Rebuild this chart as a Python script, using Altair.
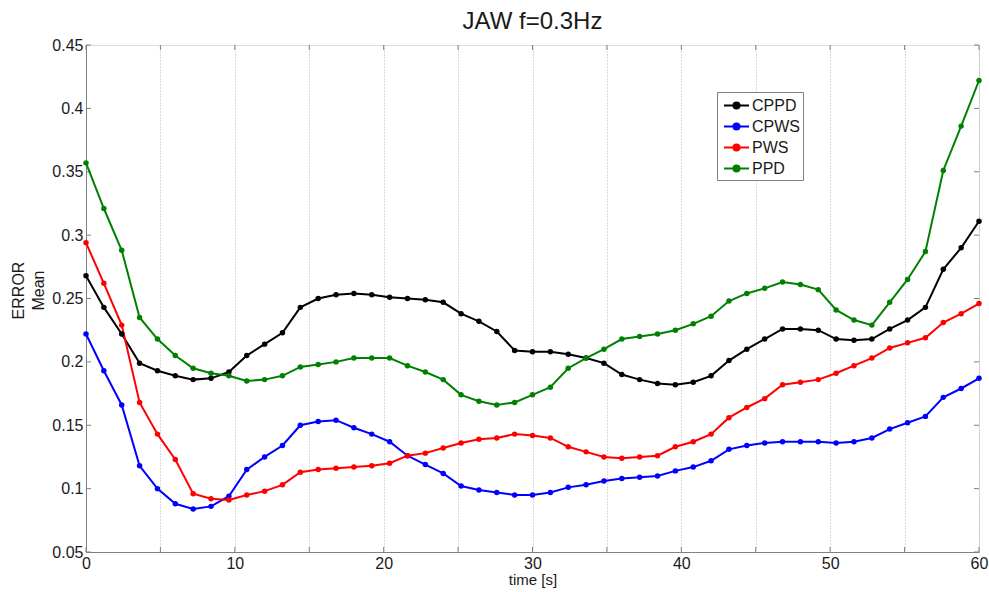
import altair as alt
import pandas as pd

# Sample times [s]
time_s = [0.0, 1.2, 2.4, 3.6, 4.8, 6.0, 7.2, 8.4, 9.6, 10.8,
          12.0, 13.2, 14.4, 15.6, 16.8, 18.0, 19.2, 20.4, 21.6, 22.8,
          24.0, 25.2, 26.4, 27.6, 28.8, 30.0, 31.2, 32.4, 33.6, 34.8,
          36.0, 37.2, 38.4, 39.6, 40.8, 42.0, 43.2, 44.4, 45.6, 46.8,
          48.0, 49.2, 50.4, 51.6, 52.8, 54.0, 55.2, 56.4, 57.6, 58.8, 60.0]

# Mean error per method
cppd = [0.268, 0.243, 0.222, 0.199, 0.193, 0.189, 0.186, 0.187, 0.192, 0.205,
        0.214, 0.223, 0.243, 0.250, 0.253, 0.254, 0.253, 0.251, 0.250, 0.249,
        0.247, 0.238, 0.232, 0.224, 0.209, 0.208, 0.208, 0.206, 0.203, 0.199,
        0.190, 0.186, 0.183, 0.182, 0.184, 0.189, 0.201, 0.210, 0.218, 0.226,
        0.226, 0.225, 0.218, 0.217, 0.218, 0.226, 0.233, 0.243, 0.273, 0.290, 0.311]
cpws = [0.222, 0.193, 0.166, 0.118, 0.100, 0.088, 0.084, 0.086, 0.094, 0.115,
        0.125, 0.134, 0.150, 0.153, 0.154, 0.148, 0.143, 0.137, 0.126, 0.119,
        0.112, 0.102, 0.099, 0.097, 0.095, 0.095, 0.097, 0.101, 0.103, 0.106,
        0.108, 0.109, 0.110, 0.114, 0.117, 0.122, 0.131, 0.134, 0.136, 0.137,
        0.137, 0.137, 0.136, 0.137, 0.140, 0.147, 0.152, 0.157, 0.172, 0.179, 0.187]
pws = [0.294, 0.262, 0.229, 0.168, 0.143, 0.123, 0.096, 0.092, 0.091, 0.095,
       0.098, 0.103, 0.113, 0.115, 0.116, 0.117, 0.118, 0.120, 0.126, 0.128,
       0.132, 0.136, 0.139, 0.140, 0.143, 0.142, 0.140, 0.133, 0.129, 0.125,
       0.124, 0.125, 0.126, 0.133, 0.137, 0.143, 0.156, 0.164, 0.171, 0.182,
       0.184, 0.186, 0.191, 0.197, 0.203, 0.211, 0.215, 0.219, 0.231, 0.238, 0.246]
ppd = [0.357, 0.321, 0.288, 0.235, 0.218, 0.205, 0.195, 0.191, 0.189, 0.185,
       0.186, 0.189, 0.196, 0.198, 0.200, 0.203, 0.203, 0.203, 0.197, 0.192,
       0.186, 0.174, 0.169, 0.166, 0.168, 0.174, 0.180, 0.195, 0.203, 0.210,
       0.218, 0.220, 0.222, 0.225, 0.230, 0.236, 0.248, 0.254, 0.258, 0.263,
       0.261, 0.257, 0.241, 0.233, 0.229, 0.247, 0.265, 0.287, 0.351, 0.386, 0.422]

series_names = ["CPPD", "CPWS", "PWS", "PPD"]
series_colors = ["#000000", "#0000ff", "#ff0000", "#008000"]
series_values = [cppd, cpws, pws, ppd]

x_ticks = [0, 5, 10, 15, 20, 25, 30, 35, 40, 45, 50, 55, 60]
y_ticks = [0.05, 0.1, 0.15, 0.2, 0.25, 0.3, 0.35, 0.4, 0.45]

rows = []
for k, (name, vals) in enumerate(zip(series_names, series_values)):
    for t, v in zip(time_s, vals):
        rows.append({"t": t, "v": v, "series": name, "k": k})
df = pd.DataFrame(rows)

W, H = 893, 507
FONT = "Liberation Sans"
AXIS_GRAY = "#808080"
TEXT = "#1a1a1a"

x_enc = alt.X(
    "t:Q",
    scale=alt.Scale(domain=[0, 60], nice=False, zero=False),
    axis=alt.Axis(
        values=x_ticks,
        labelExpr="datum.value % 10 === 0 ? datum.label : ''",
        grid=True, gridDash=[1, 2], gridColor="#b4b4b4", gridWidth=1,
        ticks=False, domainColor=AXIS_GRAY, labelFlush=False,
        labelFont=FONT, labelFontSize=16, labelColor=TEXT, labelPadding=3,
        title="time [s]", titleFont=FONT, titleFontSize=15,
        titleFontWeight="normal", titleColor=TEXT, titlePadding=1,
    ),
)
y_enc = alt.Y(
    "v:Q",
    scale=alt.Scale(domain=[0.05, 0.45], nice=False, zero=False),
    axis=alt.Axis(
        values=y_ticks, format=".2~f", grid=False, ticks=False,
        domainColor=AXIS_GRAY, labelFlush=False,
        labelFont=FONT, labelFontSize=16, labelColor=TEXT, labelPadding=3,
        title=["ERROR", "Mean"], titleFont=FONT, titleFontSize=16,
        titleFontWeight="normal", titleColor=TEXT, titlePadding=5,
        titleLineHeight=20, titleY=245,
    ),
)

# line with a dot in the middle, in legend symbol units
legend_symbol = ("M-1.32,0H1.32M-0.32,0A0.32,0.32,0,1,1,0.32,0"
                 "A0.32,0.32,0,1,1,-0.32,0Z")

color_enc = alt.Color(
    "series:N",
    scale=alt.Scale(domain=series_names, range=series_colors),
    legend=alt.Legend(
        title=None, orient="none", legendX=631, legendY=47,
        symbolType=legend_symbol, symbolSize=361, symbolStrokeWidth=2,
        symbolOffset=6, labelOffset=5, rowPadding=2, padding=3,
        labelFont=FONT, labelFontSize=16, labelColor=TEXT,
        strokeColor=AXIS_GRAY, fillColor="white",
    ),
)

base = alt.Chart(df).encode(x=x_enc, y=y_enc, color=color_enc,
                            order=alt.Order("k:Q"))

lines = base.mark_line(strokeWidth=2)
dots = base.mark_point(filled=True, size=30, opacity=1)

# inward-facing ticks on all four sides (share the main axes)
xt = pd.DataFrame({"t": x_ticks})
yt = pd.DataFrame({"v": y_ticks})
tick_style = dict(color=AXIS_GRAY, strokeWidth=1)
ticks_bottom = alt.Chart(xt).mark_rule(**tick_style).encode(
    x=x_enc, y=alt.value(H), y2=alt.value(H - 5))
ticks_top = alt.Chart(xt).mark_rule(**tick_style).encode(
    x=x_enc, y=alt.value(0), y2=alt.value(5))
ticks_left = alt.Chart(yt).mark_rule(**tick_style).encode(
    y=y_enc, x=alt.value(0), x2=alt.value(5))
ticks_right = alt.Chart(yt).mark_rule(**tick_style).encode(
    y=y_enc, x=alt.value(W), x2=alt.value(W - 5))

chart = alt.layer(
    ticks_bottom, ticks_top, ticks_left, ticks_right, lines, dots
).properties(
    width=W, height=H,
    title=alt.TitleParams("JAW f=0.3Hz", font=FONT, fontSize=24,
                          fontWeight="normal", color=TEXT,
                          anchor="middle", offset=3),
    autosize=alt.AutoSizeParams(type="none"),
    padding={"left": 86, "top": 45, "right": 10, "bottom": 40},
).configure_view(
    stroke=AXIS_GRAY, strokeWidth=1
).configure(background="white")

chart.save("out.html", embed_options={"renderer": "svg", "actions": False})
